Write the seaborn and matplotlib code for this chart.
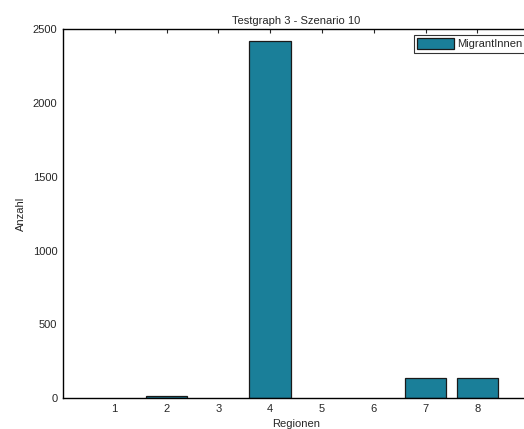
import pandas as pd
import matplotlib
matplotlib.use("Agg")
import matplotlib.pyplot as plt
import seaborn as sns

# Data
regions = [1, 2, 3, 4, 5, 6, 7, 8]
counts = [0, 15, 0, 2420, 0, 0, 135, 135]
series = "MigrantInnen"

df = pd.DataFrame({"Region": regions, "Anzahl": counts, "Gruppe": series})

sns.set_style("white")
plt.rcParams["font.family"] = ["Liberation Sans", "DejaVu Sans"]
plt.rcParams["font.size"] = 8

fig = plt.figure(figsize=(5.24, 4.29), dpi=100)
ax = fig.add_axes([0.12, 0.072, 0.89, 0.86])

sns.barplot(data=df, x="Region", y="Anzahl", hue="Gruppe", native_scale=True,
            dodge=False, width=0.8, palette=["#1a7f99"], edgecolor="#1a1a1a",
            linewidth=0.9, saturation=1, ax=ax)

ax.set_xlim(0, 9)
ax.set_ylim(0, 2500)
ax.set_xticks(regions)
ax.set_yticks(range(0, 2501, 500))
ax.set_title("Testgraph 3 - Szenario 10", fontsize=8, pad=4)
ax.set_xlabel("Regionen", fontsize=8, labelpad=4)
ax.set_ylabel("Anzahl", fontsize=8, labelpad=5)

ax.tick_params(direction="in", length=3, width=0.8, top=True, right=True,
               labelsize=8, pad=4)
for s in ax.spines.values():
    s.set_visible(True)
    s.set_color("black")
    s.set_linewidth(1.0)
    s.set_zorder(5)

leg = ax.legend(loc="upper right", bbox_to_anchor=(0.993, 0.985), fontsize=8,
                frameon=True, fancybox=False, edgecolor="black",
                handlelength=3.3, handleheight=1.2, borderpad=0.3,
                handletextpad=0.3, borderaxespad=0)
leg.get_frame().set_linewidth(0.8)
for h in leg.legend_handles:
    h.set_edgecolor("#1a1a1a")
    h.set_linewidth(0.9)

# empty regions: no visible outline on the baseline
for p in ax.patches:
    if p.get_height() == 0:
        p.set_linewidth(0)

fig.savefig("out.png", dpi=100)
